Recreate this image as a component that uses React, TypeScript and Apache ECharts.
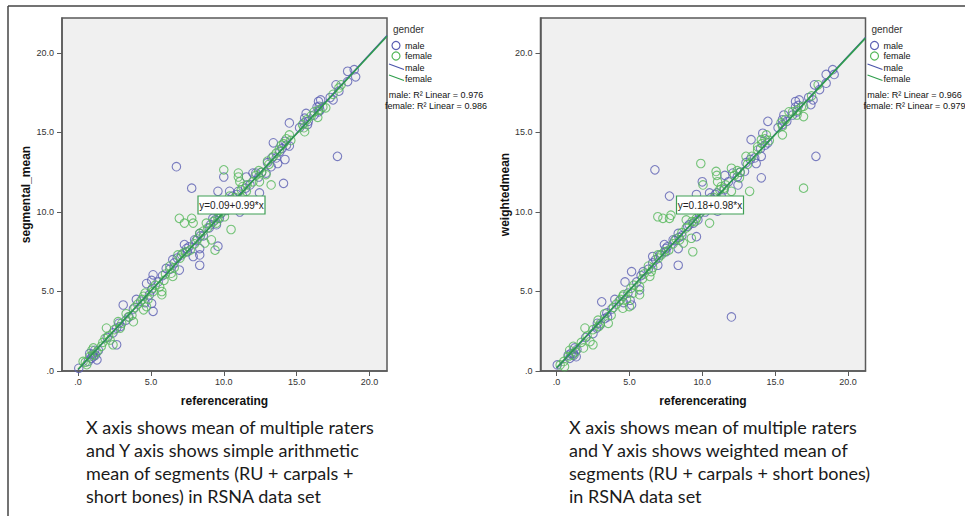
import React, { useEffect, useRef } from "react";
import * as echarts from "echarts";

// ---------- DATA ----------
const xTicks = [0, 5, 10, 15, 20];
const yTicks = [0, 5, 10, 15, 20];
const genders = ["male", "female"];

const leftMale: number[][] = [
  [0.05, 0.17], [0.7, 0.6], [0.8, 1.1], [1.05, 0.9], [1.3, 0.7], [1.15, 1.3], [3.1, 4.15], [2.65, 2.7],
  [2.9, 2.8], [2.4, 2.4], [2.65, 1.65], [4.0, 4.5], [4.7, 5.5], [5.05, 5.7], [5.15, 6.05], [5.05, 5.1],
  [5.15, 3.75], [5.05, 4.25], [6.05, 6.45], [6.75, 12.85], [6.5, 7.0], [6.95, 6.35], [7.3, 7.95], [7.45, 7.7],
  [7.8, 11.5], [7.9, 7.2], [8.0, 8.25], [8.35, 7.3], [8.35, 7.7], [8.35, 6.65], [8.35, 8.65], [9.6, 7.85],
  [9.6, 11.3], [10.0, 12.2], [9.25, 9.6], [9.5, 9.2], [10.4, 11.3], [11.1, 10.0], [11.55, 12.2], [12.0, 12.45],
  [12.45, 11.2], [12.2, 12.45], [12.9, 12.45], [13.25, 12.85], [13.4, 14.35], [13.7, 13.05], [13.85, 13.8],
  [14.2, 13.3], [14.1, 11.8], [14.5, 14.15], [14.5, 15.6], [14.2, 14.45], [15.55, 15.9], [15.65, 16.2],
  [15.75, 15.5], [16.5, 16.95], [16.55, 16.65], [16.65, 17.05], [17.5, 17.05], [17.7, 18.0], [17.8, 13.5],
  [17.9, 17.6], [18.5, 18.85], [18.95, 18.95], [19.05, 18.5], [18.5, 18.2],
  [0.9, 0.8], [1.2, 1.0], [2.0, 2.1], [3.3, 3.2], [3.8, 3.9], [4.3, 4.4], [4.6, 4.3], [5.5, 5.6],
  [6.3, 6.4], [6.6, 6.8], [7.1, 7.3], [7.6, 7.8], [8.1, 8.2], [8.6, 8.5], [9.1, 9.2], [9.4, 9.5],
  [9.8, 9.9], [10.2, 10.1], [10.6, 11.0], [10.9, 11.1], [11.3, 11.0], [11.8, 11.7], [12.4, 12.2],
  [13.0, 13.1], [13.6, 13.4], [14.0, 14.0], [15.2, 15.3], [15.8, 15.7], [16.2, 16.1], [16.6, 16.4], [17.3, 17.2],
  [1.0, 1.05], [1.4, 1.3], [2.8, 3.0], [3.5, 3.4], [4.9, 4.8], [5.8, 6.0], [6.8, 7.1], [7.5, 7.5], [8.4, 8.5],
  [9.0, 9.0], [9.7, 9.6], [10.1, 10.4], [10.4, 10.3], [11.0, 11.3], [11.5, 11.5], [12.6, 12.5], [13.3, 13.4],
  [14.3, 14.2], [15.5, 15.6], [16.4, 16.6], [16.5, 16.3]
];

const leftFemale: number[][] = [
  [0.35, 0.6], [0.6, 0.4], [0.95, 1.3], [1.05, 1.45], [1.6, 1.55], [1.85, 2.05], [1.95, 2.7], [2.2, 1.95],
  [2.4, 1.65], [2.75, 3.1], [3.45, 3.4], [3.7, 3.5], [3.8, 3.1], [4.5, 4.7], [4.5, 3.85], [4.7, 4.05],
  [4.8, 4.5], [5.15, 5.0], [5.75, 5.0], [5.75, 4.8], [5.6, 5.3], [6.4, 6.15], [6.5, 5.95], [6.85, 7.3],
  [6.95, 9.6], [7.3, 9.3], [7.8, 9.6], [7.9, 9.3], [8.35, 8.65], [8.7, 8.05], [9.15, 8.25], [9.4, 7.6],
  [8.8, 9.3], [9.7, 9.95], [10.0, 12.65], [10.05, 9.7], [10.4, 11.0], [10.5, 8.9], [11.0, 12.45], [11.1, 11.9],
  [11.55, 11.3], [12.0, 11.9], [12.45, 11.9], [12.9, 12.35], [13.0, 13.2], [13.25, 11.7], [13.6, 13.7],
  [13.95, 14.2], [14.5, 14.85], [15.5, 15.3], [15.55, 15.05], [16.0, 16.05], [16.45, 15.95], [17.0, 16.55],
  [17.5, 17.4], [17.9, 17.8], [18.05, 18.0],
  [0.8, 0.9], [1.3, 1.2], [1.7, 1.8], [2.5, 2.6], [3.0, 3.0], [3.3, 3.6], [4.1, 4.2], [4.4, 4.5], [5.3, 5.4],
  [6.0, 6.1], [6.3, 6.6], [7.0, 7.1], [7.4, 7.5], [7.7, 7.6], [8.2, 8.3], [8.9, 9.0], [9.3, 9.4], [9.6, 9.6],
  [10.1, 10.2], [10.3, 10.6], [10.8, 10.9], [11.0, 12.2], [11.2, 11.4], [11.6, 11.7], [12.2, 12.3], [12.6, 12.5],
  [13.1, 13.0], [13.4, 13.5], [14.1, 14.3], [14.3, 14.6], [15.4, 15.5], [16.2, 16.3], [16.8, 16.6],
  [0.5, 0.55], [1.1, 1.0], [2.1, 2.2], [2.9, 2.7], [3.9, 4.0], [4.6, 4.9], [5.1, 5.2], [5.9, 5.7], [6.6, 6.5],
  [7.2, 7.4], [8.0, 8.0], [8.6, 8.8], [9.5, 9.3], [9.9, 10.0], [10.6, 10.5], [11.3, 11.6], [12.4, 12.6],
  [13.8, 13.9], [14.6, 14.5], [15.7, 15.8], [16.5, 16.4]
];

const rightMale: number[][] = [
  [0.05, 0.38], [0.8, 1.0], [1.15, 1.1], [1.25, 1.45], [1.35, 0.9], [3.1, 4.35], [2.75, 2.7], [3.0, 2.9],
  [2.5, 2.35], [3.45, 3.65], [4.0, 4.5], [4.7, 5.6], [5.15, 6.25], [5.05, 4.45], [5.15, 4.15], [5.7, 5.1],
  [5.95, 6.25], [6.75, 12.65], [6.6, 7.2], [6.95, 6.65], [7.4, 7.95], [7.5, 7.7], [7.75, 11.0], [8.0, 8.25],
  [8.35, 8.65], [8.35, 7.7], [8.35, 6.65], [9.6, 8.45], [9.6, 11.1], [10.0, 11.9], [10.5, 11.2], [11.05, 10.05],
  [11.55, 12.3], [12.0, 3.4], [12.1, 12.45], [12.45, 11.7], [12.9, 12.55], [13.35, 14.55], [13.7, 13.05],
  [14.05, 13.5], [14.05, 12.15], [14.15, 14.95], [14.5, 15.7], [14.5, 14.35], [15.5, 15.8], [15.6, 16.1],
  [16.4, 16.95], [16.65, 17.05], [17.6, 17.05], [17.7, 18.0], [17.8, 13.5], [18.05, 17.7], [18.5, 18.65],
  [18.95, 18.95], [19.05, 18.65], [18.5, 18.1], [17.45, 16.75],
  [0.9, 0.8], [1.2, 1.0], [2.0, 2.1], [3.3, 3.3], [3.8, 3.9], [4.3, 4.4], [4.6, 4.3], [5.5, 5.6],
  [6.3, 6.4], [6.6, 6.8], [7.1, 7.3], [7.6, 7.8], [8.1, 8.2], [8.6, 8.5], [9.1, 9.2], [9.4, 9.3],
  [9.8, 9.9], [10.2, 10.0], [10.6, 10.9], [10.9, 11.1], [11.3, 11.0], [11.8, 11.9], [12.4, 12.2],
  [13.0, 13.1], [13.6, 13.4], [14.0, 14.0], [15.2, 15.3], [15.8, 15.7], [16.2, 16.1], [16.6, 16.7], [17.3, 17.2],
  [1.0, 1.1], [1.4, 1.35], [2.8, 3.0], [3.5, 3.4], [4.9, 4.9], [5.8, 6.0], [6.8, 7.0], [7.5, 7.5], [8.4, 8.4],
  [9.0, 9.1], [9.7, 9.5], [10.1, 10.3], [10.4, 10.2], [11.0, 11.2], [11.5, 11.4], [12.6, 12.5], [13.3, 13.3],
  [14.3, 14.2], [15.5, 15.5], [16.4, 16.6], [16.5, 16.3]
];

const rightFemale: number[][] = [
  [0.25, 0.38], [0.55, 0.27], [0.9, 1.3], [1.15, 1.55], [1.85, 1.45], [1.95, 2.7], [2.3, 1.85], [2.5, 1.65],
  [2.85, 3.2], [3.55, 3.0], [3.75, 3.5], [4.55, 4.7], [4.55, 3.95], [5.0, 4.05], [4.8, 4.5], [5.25, 4.9],
  [5.7, 4.8], [5.7, 5.3], [6.4, 5.95], [6.5, 6.25], [6.95, 7.3], [6.95, 9.7], [7.3, 9.6], [7.75, 9.6],
  [7.85, 9.8], [8.45, 8.25], [8.7, 8.05], [9.25, 8.35], [9.35, 7.5], [8.9, 9.5], [9.9, 13.05], [10.05, 11.7],
  [10.5, 9.3], [10.95, 12.55], [11.05, 11.9], [11.5, 11.5], [12.0, 12.75], [12.0, 11.3], [12.55, 12.15],
  [13.0, 13.5], [13.25, 11.3], [13.8, 14.1], [14.05, 14.55], [14.4, 14.85], [15.5, 15.4], [15.5, 14.85],
  [15.95, 16.3], [16.5, 16.1], [16.95, 16.0], [16.95, 11.5], [16.95, 16.65], [17.5, 17.3], [17.95, 18.0],
  [0.8, 0.9], [1.3, 1.2], [1.7, 1.8], [2.5, 2.6], [3.0, 3.0], [3.3, 3.6], [4.1, 4.2], [4.4, 4.5], [5.3, 5.4],
  [6.0, 6.1], [6.3, 6.6], [7.0, 7.1], [7.4, 7.5], [7.7, 7.6], [8.2, 8.3], [8.9, 9.0], [9.3, 9.4], [9.6, 9.6],
  [10.1, 10.2], [10.3, 10.6], [10.8, 10.9], [11.0, 12.3], [11.2, 11.4], [11.6, 11.7], [12.2, 12.3], [12.6, 12.5],
  [13.1, 13.0], [13.4, 13.5], [14.1, 14.3], [14.3, 14.6], [15.4, 15.6], [16.2, 16.3], [16.8, 16.6],
  [0.5, 0.6], [1.1, 1.0], [2.1, 2.2], [2.9, 2.8], [3.9, 4.0], [4.6, 4.8], [5.1, 5.2], [5.9, 5.8], [6.6, 6.5],
  [7.2, 7.3], [8.0, 8.0], [8.6, 8.7], [9.5, 9.4], [9.9, 10.0], [10.6, 10.5], [11.3, 11.6], [12.4, 12.6],
  [13.8, 13.9], [14.6, 14.5], [15.7, 15.8], [16.5, 16.4]
];

// fit lines: [intercept, slope]
const leftFit = { male: [0.07, 0.992], female: [0.11, 0.988] };
const rightFit = { male: [0.16, 0.982], female: [0.2, 0.978] };
const fitRange = [0, 21.2];

const leftEquation = "y=0.09+0.99*x";
const rightEquation = "y=0.18+0.98*x";
const leftR2 = ["male: R² Linear = 0.976", "female: R² Linear = 0.986"];
const rightR2 = ["male: R² Linear = 0.966", "female: R² Linear = 0.979"];
const xTitle = "referencerating";
const yTitles = ["segmental_mean", "weightedmean"];
const captions = [
  "X axis shows mean of multiple raters\nand Y axis shows simple arithmetic\nmean of segments (RU + carpals +\nshort bones) in RSNA data set",
  "X axis shows mean of multiple raters\nand Y axis shows weighted mean of\nsegments (RU + carpals + short bones)\nin RSNA data set",
];

// ---------- STYLE ----------
const FONT = "'Liberation Sans', Arial, sans-serif";
const MALE = "#5b5fb3";
const FEMALE = "#55b85a";
const MALE_LINE = "#4a55aa";
const FEMALE_LINE = "#2f9e4c";
const AXIS = "#5a5a5a";

const fmt = (v: number) => (v === 0 ? ".0" : v.toFixed(1));

function fitData(f: number[]) {
  return fitRange.map((x) => [x, f[0] + f[1] * x]);
}

export default function App() {
  const ref = useRef<HTMLDivElement>(null);
  useEffect(() => {
    document.body.style.margin = "0";
    const chart = echarts.init(ref.current!, null, { renderer: "svg" });
    const offs = [0, 478.5];
    const grids = offs.map((o) => ({
      left: 62 + o,
      top: 18,
      width: 325,
      height: 353,
      show: true,
      backgroundColor: "#f0f0f0",
      borderColor: AXIS,
      borderWidth: 1.5,
      containLabel: false,
    }));
    const xAxes = offs.map((_, i) => ({
      type: "value",
      gridIndex: i,
      min: -1.1,
      max: 21.2,
      name: xTitle,
      nameLocation: "middle",
      nameGap: 24,
      nameTextStyle: { fontFamily: FONT, fontWeight: "bold", fontSize: 12, color: "#111" },
      axisLine: { show: true, onZero: false, lineStyle: { color: AXIS, width: 1.5 } },
      axisTick: { show: true, length: 5, customValues: xTicks, lineStyle: { color: AXIS } },
      axisLabel: {
        customValues: xTicks,
        formatter: fmt,
        fontFamily: FONT,
        fontSize: 9,
        color: "#333",
        margin: 6,
      },
      splitLine: { show: false },
    }));
    const yAxes = offs.map((_, i) => ({
      type: "value",
      gridIndex: i,
      min: 0,
      max: 22.2,
      name: yTitles[i],
      nameLocation: "middle",
      nameGap: 30,
      nameTextStyle: { fontFamily: FONT, fontWeight: "bold", fontSize: 12, color: "#111" },
      axisLine: { show: true, onZero: false, lineStyle: { color: AXIS, width: 1.5 } },
      axisTick: { show: true, length: 5, customValues: yTicks, lineStyle: { color: AXIS } },
      axisLabel: {
        customValues: yTicks,
        formatter: fmt,
        fontFamily: FONT,
        fontSize: 9,
        color: "#333",
        margin: 8,
      },
      splitLine: { show: false },
    }));

    const panels = [
      { m: leftMale, f: leftFemale, fit: leftFit },
      { m: rightMale, f: rightFemale, fit: rightFit },
    ];
    const series: any[] = [];
    panels.forEach((p, i) => {
      series.push({
        type: "scatter", name: genders[0], xAxisIndex: i, yAxisIndex: i, data: p.m,
        symbol: "circle", symbolSize: 8.5,
        itemStyle: { color: "rgba(0,0,0,0)", borderColor: MALE, borderWidth: 1.1 },
      });
      series.push({
        type: "scatter", name: genders[1], xAxisIndex: i, yAxisIndex: i, data: p.f,
        symbol: "circle", symbolSize: 8.5,
        itemStyle: { color: "rgba(0,0,0,0)", borderColor: FEMALE, borderWidth: 1.1 },
      });
      series.push({
        type: "line", xAxisIndex: i, yAxisIndex: i, data: fitData(p.fit.male),
        showSymbol: false, symbol: "none", lineStyle: { color: MALE_LINE, width: 1.3 },
      });
      series.push({
        type: "line", xAxisIndex: i, yAxisIndex: i, data: fitData(p.fit.female),
        showSymbol: false, symbol: "none", lineStyle: { color: FEMALE_LINE, width: 1.5 },
      });
    });

    const graphics: any[] = [
      { type: "line", shape: { x1: 8, y1: 6, x2: 965, y2: 6 }, style: { stroke: "#444", lineWidth: 1.5 } },
      { type: "line", shape: { x1: 8, y1: 6, x2: 8, y2: 516 }, style: { stroke: "#444", lineWidth: 1.5 } },
    ];
    const eqs = [leftEquation, rightEquation];
    const r2s = [leftR2, rightR2];
    offs.forEach((o, i) => {
      // equation box
      graphics.push({
        type: "rect", shape: { x: 198 + o, y: 196, width: 67, height: 18 },
        style: { fill: "#fff", stroke: "#3f9f55", lineWidth: 1.2 }, z: 100,
      });
      graphics.push({
        type: "text", x: 231.5 + o, y: 205.5,
        style: { text: eqs[i], fontFamily: FONT, fontSize: 10, fill: "#222", align: "center", verticalAlign: "middle" },
        z: 101,
      });
      // legend
      const lx = 396 + o;
      graphics.push({
        type: "text", x: lx - 3, y: 29.5,
        style: { text: "gender", fontFamily: FONT, fontSize: 10, fill: "#333", align: "left", verticalAlign: "middle" },
      });
      graphics.push({ type: "circle", shape: { cx: lx, cy: 45.5, r: 4 }, style: { fill: "none", stroke: MALE, lineWidth: 1.2 } });
      graphics.push({ type: "circle", shape: { cx: lx, cy: 56, r: 4 }, style: { fill: "none", stroke: FEMALE, lineWidth: 1.2 } });
      graphics.push({ type: "line", shape: { x1: lx - 7, y1: 64, x2: lx + 8, y2: 69.5 }, style: { stroke: MALE_LINE, lineWidth: 1.2 } });
      graphics.push({ type: "line", shape: { x1: lx - 7, y1: 75, x2: lx + 8, y2: 80.5 }, style: { stroke: FEMALE_LINE, lineWidth: 1.2 } });
      const labels = [
        [genders[0], 45.5], [genders[1], 56], [genders[0], 67.5], [genders[1], 78.5],
      ];
      labels.forEach(([t, y]) => {
        graphics.push({
          type: "text", x: lx + 9, y: y as number,
          style: { text: t as string, fontFamily: FONT, fontSize: 9, fill: "#111", align: "left", verticalAlign: "middle" },
        });
      });
      r2s[i].forEach((t, k) => {
        graphics.push({
          type: "text", x: 436 + o, y: 94.5 + k * 11.2,
          style: { text: t, fontFamily: FONT, fontSize: 9, fill: "#111", align: "center", verticalAlign: "middle" },
        });
      });
      // caption
      graphics.push({
        type: "text", x: (i === 0 ? 86 : 569), y: 416,
        style: {
          text: captions[i], fontFamily: "Lato, 'Open Sans', sans-serif", fontSize: 18,
          lineHeight: 22.8, fill: "#1a1a1a", align: "left", verticalAlign: "top",
        },
      });
    });

    chart.setOption({
      animation: false,
      backgroundColor: "#ffffff",
      grid: grids,
      xAxis: xAxes,
      yAxis: yAxes,
      series,
      graphic: graphics,
    });
    return () => chart.dispose();
  }, []);
  return <div ref={ref} style={{ width: 965, height: 516 }} />;
}
